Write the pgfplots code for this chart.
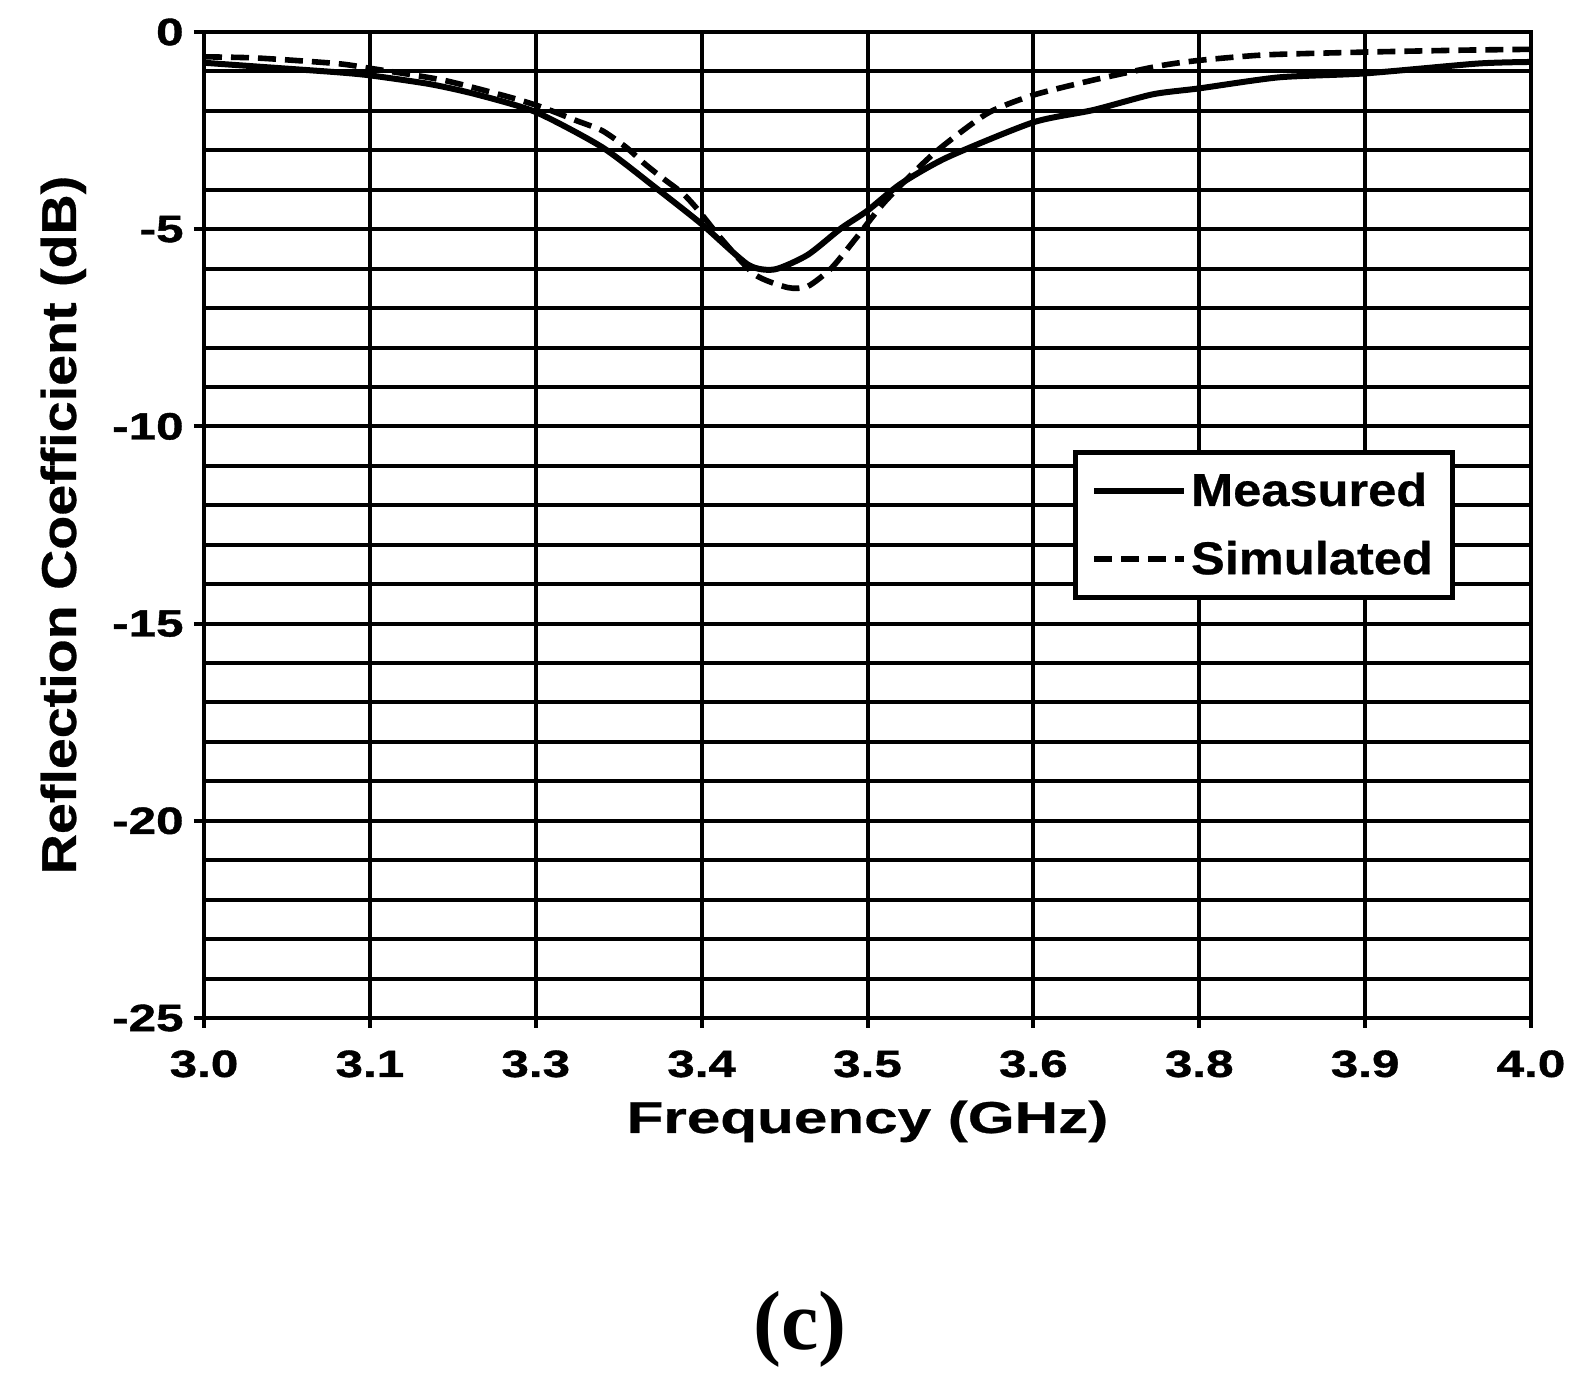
\documentclass[border=0pt]{standalone}
\usepackage{fontspec}
\setmainfont{Liberation Sans}
\newfontfamily\tickf{Liberation Sans}[FakeStretch=1.3, FakeBold=1]
\newfontfamily\xlabf{Liberation Sans}[FakeStretch=1.35, FakeBold=0.6]
\newfontfamily\ylabf{Liberation Sans}[FakeStretch=1.14, FakeBold=0.6]
\newfontfamily\legf{Liberation Sans}[FakeStretch=1.1, FakeBold=0.6]
\newfontfamily\capf{Liberation Serif}
\usepackage{pgfplots}
\pgfplotsset{compat=1.18}

\pgfplotstableread{
f      s11
3.000  -0.78
3.050  -0.90
3.100  -1.02
3.125  -1.10
3.170  -1.32
3.205  -1.58
3.250  -2.03
3.300  -2.92
3.340  -3.94
3.375  -4.87
3.410  -5.90
3.430  -6.02
3.455  -5.65
3.480  -4.98
3.500  -4.53
3.525  -3.85
3.560  -3.18
3.625  -2.29
3.670  -1.98
3.715  -1.58
3.750  -1.43
3.810  -1.15
3.875  -1.05
3.960  -0.80
4.000  -0.76
}\measured
\pgfplotstableread{
f      s11
3.000  -0.63
3.040  -0.66
3.100  -0.80
3.125  -0.92
3.180  -1.22
3.230  -1.65
3.255  -1.91
3.280  -2.24
3.300  -2.50
3.318  -2.92
3.332  -3.34
3.345  -3.69
3.361  -4.10
3.372  -4.50
3.390  -5.25
3.415  -6.15
3.440  -6.48
3.455  -6.45
3.473  -5.98
3.492  -5.20
3.514  -4.27
3.550  -3.08
3.590  -2.07
3.625  -1.60
3.670  -1.22
3.720  -0.86
3.750  -0.72
3.800  -0.58
3.875  -0.51
3.950  -0.46
4.000  -0.44
}\simulated

\begin{document}
\begin{tikzpicture}
\path[use as bounding box] (-102pt,-180.5pt) rectangle (693.5pt,509pt);
\begin{axis}[
  at={(0,0)}, anchor=south west,
  scale only axis,
  width=663.5pt, height=493pt,
  xmin=3, xmax=4, ymin=-25, ymax=0,
  xtick={3,3.125,3.25,3.375,3.5,3.625,3.75,3.875,4},
  xticklabels={3.0,3.1,3.3,3.4,3.5,3.6,3.8,3.9,4.0},
  ytick={-25,-20,-15,-10,-5,0},
  yticklabels={-25,-20,-15,-10,-5,0},
  minor ytick={-24,-23,...,-1},
  grid=both,
  major grid style={black, line width=2pt},
  minor grid style={black, line width=2pt},
  axis line style={black, line width=2.4pt},
  tick align=outside, xtick pos=bottom, ytick pos=left,
  major tick length=5pt, minor tick length=0pt,
  tick style={black, line width=2pt},
  ticklabel style={font=\tickf\bfseries\fontsize{19}{22}\selectfont, inner sep=0pt},
  xticklabel style={yshift=-11pt},
  yticklabel style={xshift=-5pt},
  xlabel={Frequency (GHz)},
  ylabel={Reflection Coefficient (dB)},
  xlabel style={at={(axis description cs:0.5,-0.1166)}, anchor=base, inner sep=0pt,
    font=\xlabf\bfseries\fontsize{22.3}{26}\selectfont},
  ylabel style={at={(axis description cs:-0.0965,0.5)}, anchor=base, inner sep=0pt,
    font=\ylabf\bfseries\fontsize{24.4}{28}\selectfont},
  legend style={at={(axis description cs:0.943,0.576)}, anchor=north east,
    draw=black, line width=2.5pt, fill=white, inner xsep=8pt, inner ysep=8pt,
    font=\legf\bfseries\fontsize{23}{26}\selectfont, row sep=12pt,
    cells={anchor=west}},
  legend image code/.code={\draw[#1] (0pt,0pt) -- (45pt,0pt);},
  clip=false,
]
\addplot[black, line width=3pt, smooth, tension=0.4] table[x=f, y=s11] {\measured};
\addlegendentry{Measured}
\addplot[black, line width=2.8pt, dash pattern=on 9pt off 4.5pt, smooth, tension=0.4] table[x=f, y=s11] {\simulated};
\addlegendentry{Simulated}
\node[anchor=base, inner sep=0pt, font=\capf\bfseries\fontsize{42}{48}\selectfont]
  at (axis description cs:0.449,-0.3367) {(c)};
\end{axis}
\end{tikzpicture}
\end{document}
